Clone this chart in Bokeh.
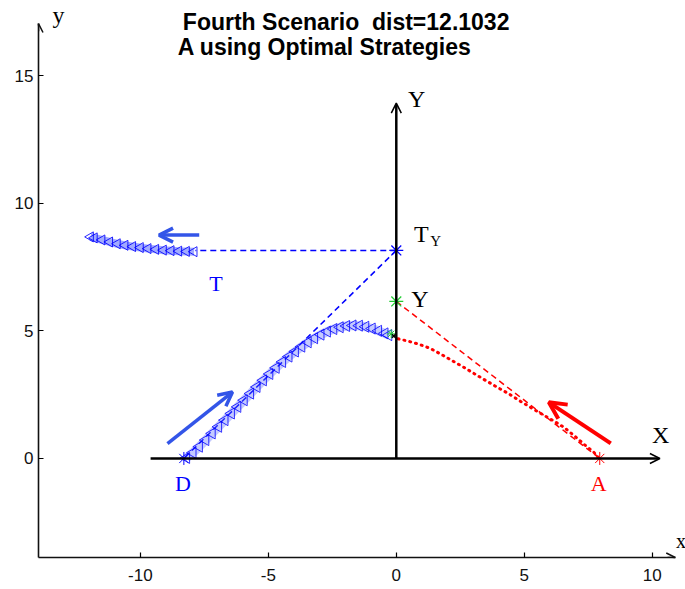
from bokeh.plotting import figure
from bokeh.models import Arrow, OpenHead, Label, Range1d
from bokeh.embed import file_html
from bokeh.resources import INLINE

# ---- data ----
x_ticks = [-10, -5, 0, 5, 10]
y_ticks = [0, 5, 10, 15]
x_tick_labels = {-10: "-10", -5: "-5", 0: "0", 5: "5", 10: "10"}

title_1 = "Fourth Scenario \u00a0dist=12.1032"
title_2 = "A using Optimal Strategies"

# key points
D_pt = (-8.3, 0.0)
A_pt = (7.95, 0.0)
TY_pt = (0.0, 8.15)
Y_pt = (0.0, 6.15)
T_dash_end = (-7.85, 8.15)

# trajectory of D (defender)
d_x = [-8.2, -7.95, -7.7, -7.45, -7.2, -6.95, -6.7, -6.45, -6.2, -5.95, -5.7, -5.45,
       -5.2, -4.95, -4.7, -4.45, -4.2, -3.95, -3.7, -3.45, -3.2, -2.95, -2.7, -2.45,
       -2.2, -1.95, -1.7, -1.45, -1.2, -0.95, -0.7, -0.45, -0.3]
d_y = [0.02, 0.22, 0.46, 0.72, 0.98, 1.24, 1.5, 1.76, 2.02, 2.28, 2.54, 2.8,
       3.06, 3.31, 3.55, 3.78, 3.99, 4.19, 4.38, 4.55, 4.71, 4.85, 4.97, 5.07,
       5.14, 5.19, 5.21, 5.2, 5.16, 5.09, 5.0, 4.9, 4.83]

# trajectory of T (target)
t_x = [-7.9, -8.2, -8.5, -8.8, -9.1, -9.4, -9.7, -10.0, -10.3, -10.6, -10.9, -11.2, -11.5, -11.8, -11.95]
t_y = [8.1, 8.11, 8.12, 8.14, 8.16, 8.19, 8.22, 8.26, 8.3, 8.35, 8.41, 8.48, 8.56, 8.64, 8.68]

# trajectory of A (attacker)
a_x = [7.9, 7.72, 7.4, 7.0, 6.55, 6.1, 5.65, 5.25, 4.8, 4.4, 3.96, 3.5, 3.05, 2.64, 2.2, 1.75, 1.35, 0.9, 0.45, 0.05]
a_y = [0.03, 0.24, 0.5, 0.85, 1.22, 1.5, 1.76, 2.0, 2.27, 2.53, 2.78, 3.05, 3.32, 3.57, 3.82, 4.08, 4.3, 4.47, 4.6, 4.69]

# axis limits of the outer (MATLAB) axes
x_lim = (-13.98, 10.9)
y_lim = (-3.88, 17.04)

BLUE = "#0000ff"
ARROW_BLUE = "#3355e8"
RED = "#ff0000"
GREEN = "#22cc33"
SERIF = "Liberation Serif"
SANS = "Liberation Sans"
AX = "#111111"

p = figure(width=685, height=589, output_backend="svg", toolbar_location=None,
           x_range=Range1d(-13.98, 11.3), y_range=Range1d(-3.88, 17.94),
           min_border_left=38, min_border_right=0, min_border_top=0, min_border_bottom=32)
p.grid.visible = False
p.outline_line_color = None
p.background_fill_color = "white"
p.border_fill_color = "white"

for ax in (p.xaxis, p.yaxis):
    ax.axis_line_width = 1.6
    ax.axis_line_color = AX
    ax.major_tick_in = 5
    ax.major_tick_out = 0
    ax.major_tick_line_width = 1.2
    ax.minor_tick_line_color = None
    ax.major_label_text_font = SANS
    ax.major_label_text_font_size = "17px"
    ax.major_label_text_color = AX
p.xaxis.ticker = x_ticks
p.yaxis.ticker = y_ticks
p.xaxis.major_label_overrides = x_tick_labels
p.xaxis.bounds = x_lim
p.yaxis.bounds = y_lim
p.xaxis.major_label_standoff = 11
p.yaxis.major_label_standoff = 5

# arrow heads on outer axes
p.add_layout(Arrow(end=OpenHead(size=9, line_width=1.5, line_color=AX),
                   x_start=x_lim[1] - 0.3, y_start=y_lim[0], x_end=x_lim[1], y_end=y_lim[0],
                   line_color=AX, line_width=1.6))
p.add_layout(Arrow(end=OpenHead(size=9, line_width=1.5, line_color=AX),
                   x_start=x_lim[0], y_start=y_lim[1] - 0.3, x_end=x_lim[0], y_end=y_lim[1],
                   line_color=AX, line_width=1.6))

# inner X / Y axes
p.add_layout(Arrow(end=OpenHead(size=10, line_width=1.5, line_color="black"),
                   x_start=-9.6, y_start=0, x_end=10.3, y_end=0,
                   line_color="black", line_width=2.5))
p.add_layout(Arrow(end=OpenHead(size=10, line_width=1.5, line_color="black"),
                   x_start=0, y_start=0, x_end=0, y_end=13.92,
                   line_color="black", line_width=2.5))

# dashed guide lines
p.line([TY_pt[0], T_dash_end[0]], [TY_pt[1], T_dash_end[1]], line_color=BLUE,
       line_width=1.5, line_dash="6 4")
p.line([TY_pt[0], D_pt[0]], [TY_pt[1], D_pt[1]], line_color=BLUE,
       line_width=1.5, line_dash="6 4")
p.line([Y_pt[0], A_pt[0]], [Y_pt[1], A_pt[1]], line_color=RED,
       line_width=1.5, line_dash="6 4")

# D trajectory band
p.line(d_x, d_y, line_color="#5566ff", line_width=9, line_alpha=0.35)
p.scatter(d_x, d_y, marker="triangle", angle=1.5708, size=11, fill_color=None,
          line_color=BLUE, line_width=1, line_alpha=0.8)
# T trajectory band
p.line(t_x, t_y, line_color="#4455ff", line_width=8, line_alpha=0.5)
p.scatter(t_x, t_y, marker="triangle", angle=1.5708, size=10, fill_color=None,
          line_color=BLUE, line_width=1, line_alpha=0.85)
# A trajectory dots
p.line(a_x, a_y, line_color=RED, line_width=3, line_dash="1 5", line_cap="round")

# end markers near meeting point
p.scatter([-0.2], [4.88], marker="asterisk", size=9, line_color=GREEN, line_width=1)
p.scatter([-0.1], [4.8], marker="x", size=5, line_color="black", line_width=1.5)

# key point markers
p.scatter([D_pt[0]], [D_pt[1]], marker="asterisk", size=13, line_color=BLUE, line_width=1)
p.scatter([A_pt[0]], [A_pt[1]], marker="asterisk", size=13, line_color=RED, line_width=1)
p.scatter([TY_pt[0]], [TY_pt[1]], marker="asterisk", size=14, line_color=BLUE, line_width=1.3)
p.scatter([Y_pt[0]], [Y_pt[1]], marker="asterisk", size=14, line_color=GREEN, line_width=1.3)

# direction arrows
p.add_layout(Arrow(end=OpenHead(size=17, line_width=4, line_color=RED),
                   x_start=8.38, y_start=0.59, x_end=5.96, y_end=2.2,
                   line_color=RED, line_width=4))
p.add_layout(Arrow(end=OpenHead(size=14, line_width=3.5, line_color=ARROW_BLUE),
                   x_start=-7.7, y_start=8.75, x_end=-9.27, y_end=8.75,
                   line_color=ARROW_BLUE, line_width=3.5))
p.add_layout(Arrow(end=OpenHead(size=14, line_width=3.5, line_color=ARROW_BLUE),
                   x_start=-8.94, y_start=0.58, x_end=-6.4, y_end=2.6,
                   line_color=ARROW_BLUE, line_width=3.5))

def lab(x, y, t, color="black", size="22px", font=SERIF, style="normal", align="center"):
    p.add_layout(Label(x=x, y=y, text=t, text_color=color, text_font=font,
                       text_font_size=size, text_font_style=style,
                       text_align=align, text_baseline="middle"))

lab(-8.34, -0.98, "D", BLUE)
lab(7.91, -0.98, "A", RED)
lab(-7.05, 6.86, "T", BLUE)
lab(0.98, 8.78, "T", size="24px")
lab(1.54, 8.5, "Y", size="15px")
lab(0.92, 6.24, "Y", size="24px")
lab(0.8, 14.08, "Y", size="24px")
lab(10.33, 0.9, "X", size="24px")
lab(-13.2, 17.39, "y", size="24px")
lab(11.12, -3.25, "x", size="20px")

lab(-8.34, 17.08, title_1, size="23px", font=SANS, style="bold", align="left")
lab(-8.54, 16.1, title_2, size="23px", font=SANS, style="bold", align="left")

open("out.html", "w").write(file_html(p, INLINE))
